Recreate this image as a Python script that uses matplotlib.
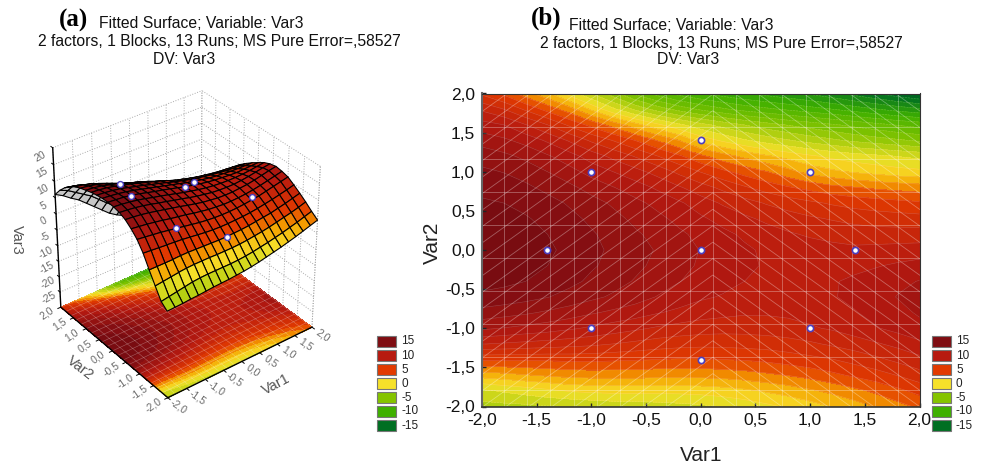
import numpy as np
import matplotlib
matplotlib.use('Agg')
import matplotlib.pyplot as plt
from matplotlib.colors import LinearSegmentedColormap, Normalize
from matplotlib.patches import Rectangle
from mpl_toolkits.mplot3d import proj3d

plt.rcParams['font.family'] = ['Liberation Sans', 'DejaVu Sans']

W, H = 986, 465

# fitted surface, rows Var2 = 2.0 .. -2.0, columns Var1 = -2.0 .. 2.0
var1 = [-2.0, -1.8, -1.6, -1.4, -1.2, -1.0, -0.8, -0.6, -0.4, -0.2, 0.0, 0.2, 0.4, 0.6, 0.8, 1.0, 1.2, 1.4, 1.6, 1.8, 2.0]
var2 = [2.0, 1.8, 1.6, 1.4, 1.2, 1.0, 0.8, 0.6, 0.4, 0.2, 0.0, -0.2, -0.4, -0.6, -0.8, -1.0, -1.2, -1.4, -1.6, -1.8, -2.0]
var3 = [
    [6, 4.7, 3, 1.5, -0.5, -2.5, -4.5, -6.5, -8, -9.2, -10, -10.6, -11.2, -11.7, -12.2, -12.7, -13.4, -14.2, -15, -15.8, -16.5],
    [8.5, 7.5, 6, 4.5, 3, 1, -1, -2.8, -4.3, -5.5, -6.5, -7.3, -8, -8.5, -9, -9.5, -10, -10.6, -11.2, -11.8, -12.3],
    [10.5, 10, 8.8, 7.5, 6, 4.6, 3.2, 1.7, 0.3, -1, -2.1, -3, -3.8, -4.5, -5.1, -5.6, -6.1, -6.6, -7.1, -7.6, -8],
    [12, 11.5, 10.8, 9.8, 8.6, 7.3, 6.2, 5, 3.7, 2.5, 0.8, -0.2, -1.1, -1.8, -2.4, -3, -3.5, -4, -4.4, -4.8, -5.2],
    [13.2, 12.8, 12.2, 11.4, 10.5, 9.4, 8.4, 7.4, 6.3, 5.2, 4, 3, 2.2, 1.4, 0.8, 0.2, -0.3, -0.7, -1, -1.3, -1.6],
    [14, 13.7, 13.2, 12.5, 11.7, 10.8, 10, 9.2, 8.3, 7.2, 6.2, 5.3, 4.5, 3.8, 2.9, 2, 1.5, 1.1, 0.8, 0.5, 0.3],
    [14.6, 14.4, 14, 13.4, 12.8, 12, 11.3, 10.6, 9.8, 8.9, 8, 7.2, 6.4, 5.7, 5.1, 4.6, 4.1, 3.8, 3.5, 3.3, 3.1],
    [15.2, 15, 14.7, 14.2, 13.6, 13, 12.3, 11.6, 10.9, 10.2, 9.4, 8.6, 8, 7.4, 6.9, 6.5, 6.1, 5.8, 5.6, 5.4, 5.2],
    [15.6, 15.4, 15.1, 14.7, 14.1, 13.5, 12.9, 12.2, 11.6, 10.9, 10.2, 9.6, 9, 8.5, 8.1, 7.7, 7.4, 7.1, 6.9, 6.8, 6.7],
    [15.9, 15.7, 15.4, 15, 14.5, 13.9, 13.3, 12.7, 12.1, 11.5, 10.9, 10.3, 9.8, 9.3, 8.9, 8.6, 8.4, 8.2, 8.1, 8.1, 8.1],
    [16, 15.8, 15.6, 15.2, 14.7, 14.1, 13.5, 13, 12.4, 11.8, 11.2, 10.7, 10.2, 9.8, 9.5, 9.3, 9.1, 9, 9.1, 9.2, 9.3],
    [15.9, 15.7, 15.4, 15, 14.5, 13.9, 13.4, 12.8, 12.2, 11.6, 11.1, 10.6, 10.2, 9.9, 9.7, 9.6, 9.6, 9.7, 9.9, 10.2, 10.5],
    [15.5, 15.3, 15, 14.6, 14.1, 13.5, 13, 12.4, 11.9, 11.3, 10.8, 10.4, 10, 9.8, 9.7, 9.7, 9.9, 10.2, 10.6, 11, 11.3],
    [14.7, 14.5, 14.2, 13.8, 13.3, 12.8, 12.3, 11.8, 11.2, 10.7, 10.2, 9.9, 9.6, 9.5, 9.5, 9.7, 9.9, 10.3, 10.8, 11.3, 11.7],
    [13.3, 13, 12.7, 12.3, 11.9, 11.4, 11, 10.6, 10.1, 9.7, 9.3, 9.1, 8.9, 8.9, 9, 9.2, 9.5, 9.9, 10.4, 10.9, 11.4],
    [11.5, 11.2, 10.9, 10.6, 10.2, 9.8, 9.4, 9, 8.6, 8.3, 8.1, 8, 8, 8.1, 8.3, 8.6, 8.9, 9.4, 9.9, 10.4, 10.9],
    [8.8, 8.6, 8.4, 8.2, 8, 7.8, 7.5, 7.2, 6.9, 6.7, 6.6, 6.6, 6.7, 6.8, 7, 7.3, 7.7, 8.1, 8.6, 9.1, 9.7],
    [5.2, 5.2, 5.2, 5.2, 5.3, 5.3, 5.2, 5.1, 5, 4.9, 4.9, 5, 5.1, 5.3, 5.6, 5.9, 6.2, 6.7, 7.2, 7.8, 8.4],
    [1.8, 2.1, 2.4, 2.7, 2.9, 3, 3, 3, 2.9, 2.9, 2.9, 3, 3.2, 3.5, 3.8, 4.2, 4.7, 5.2, 5.7, 6.3, 7],
    [-1.5, -1.1, -0.7, -0.3, 0.1, 0.3, 0.4, 0.4, 0.4, 0.4, 0.5, 0.7, 1, 1.4, 1.8, 2.3, 2.8, 3.4, 4, 4.7, 5.4],
    [-3, -2.9, -2.8, -2.6, -2.5, -2.3, -2.1, -2, -1.9, -1.7, -1.5, -1.2, -0.8, -0.3, 0.2, 0.7, 1.3, 1.9, 2.6, 3.3, 4],
]

# design points, x / y / z above the surface
pts_x = [-1.0, 1.0, -1.0, 1.0, -1.41, 1.41, 0.0, 0.0, 0.0]
pts_y = [-1.0, -1.0, 1.0, 1.0, 0.0, 0.0, -1.41, 1.41, 0.0]
pts_z = [10.0, 9.5, 10.5, 2.0, 15.0, 9.5, 5.0, 1.0, 11.0]
hidden_3d = [5, 7]  # behind the ridge in panel (a)

ticks_2d = [-2.0, -1.5, -1.0, -0.5, 0.0, 0.5, 1.0, 1.5, 2.0]
ticks_z = [20, 15, 10, 5, 0, -5, -10, -15, -20, -25]
legend_labels = ['15', '10', '5', '0', '-5', '-10', '-15']
legend_colors = ['#7f0d12', '#b71a10', '#e23a00', '#f6e12a', '#85c400', '#3fb000', '#006f22']

title_lines = ['Fitted Surface; Variable: Var3', '2 factors, 1 Blocks, 13 Runs; MS Pure Error=,58527', 'DV: Var3']

X, Y = np.meshgrid(var1, var2)
Z = np.array(var3, dtype=float)

cmap = LinearSegmentedColormap.from_list('stat', [
    (0.0, '#00531c'), (2.5 / 35, '#006f22'), (7.5 / 35, '#3fb000'), (12.5 / 35, '#85c400'),
    (17.5 / 35, '#f6e12a'), (20 / 35, '#f5a300'), (22.5 / 35, '#e23a00'), (27.5 / 35, '#b71a10'),
    (32.5 / 35, '#7f0d12'), (1.0, '#6a0a10')])
norm = Normalize(-17.5, 17.5)
levels = np.arange(-17.5, 18.5, 1.25)


def comma(v):
    return ('%.1f' % v).replace('.', ',')


def px_rect(x0, y0, x1, y1):
    return [x0 / W, 1 - y1 / H, (x1 - x0) / W, (y1 - y0) / H]


fig = plt.figure(figsize=(W / 100, H / 100), dpi=100)


def px_text(x, y, s, **kw):
    fig.text(x / W, 1 - y / H, s, **kw)


# ---- panel (b)
ax = fig.add_axes(px_rect(482, 93.5, 919.5, 406.5))
ax.contourf(X, Y, Z, levels=levels, cmap=cmap, norm=norm)
ax.contour(X, Y, Z, levels=levels, colors='white', linewidths=0.4, alpha=0.22)
for k in range(-10, 10):
    ax.axvline(0.11 + k * 0.212, color='white', lw=0.7, alpha=0.3)
for k in range(-5, 5):
    ax.axhline(-0.106 + k * 0.421, color='white', lw=0.7, alpha=0.3)
xx = np.array([-2.2, 0.11, 2.2])
for k in range(-10, 30):
    yy = -2 + k * 0.21 - np.abs(xx - 0.11)
    ax.plot(xx, yy, color='white', lw=0.6, alpha=0.33)
ax.scatter(pts_x, pts_y, s=20, facecolor='white', edgecolor='#4a3fc0', linewidth=1.2, zorder=5)
ax.set_xlim(-2, 2)
ax.set_ylim(-2, 2)
ax.set_xticks(ticks_2d)
ax.set_yticks(ticks_2d)
ax.set_xticklabels([comma(t) for t in ticks_2d])
ax.set_yticklabels([comma(t) for t in ticks_2d])
ax.tick_params(direction='in', length=3, width=1, labelsize=12.5, pad=5, color='#222222', labelcolor='#111111')
for sp in ax.spines.values():
    sp.set_color('#333333')
    sp.set_linewidth(0.8)
ax.spines['left'].set_color('#666666')
ax.spines['left'].set_linewidth(1.5)
ax.spines['bottom'].set_linewidth(1.2)
px_text(432, 243, 'Var2', fontsize=15, rotation=90, ha='center', va='center', color='#222222')
px_text(701, 455, 'Var1', fontsize=15, ha='center', va='center', color='#222222')

# ---- panel (a)
AZ, EL = -127.5, 34.5
ax3 = fig.add_axes(px_rect(-20, 45, 380, 445), projection='3d', computed_zorder=False)
ax3.set_axis_off()
ax3.patch.set_alpha(0)
ax3.view_init(elev=EL, azim=AZ)
ax3.set_proj_type('persp', focal_length=0.8)
ax3.set_box_aspect((1, 1, 1.05), zoom=0.79)
ax3.set_xlim(-2, 2, view_margin=0)
ax3.set_ylim(-2, 2, view_margin=0)
ax3.set_zlim(-30, 20, view_margin=0)


def text3(x, y, z, s, **kw):
    xp, yp, _ = proj3d.proj_transform(x, y, z, ax3.get_proj())
    ax3.text2D(xp, yp, s, transform=ax3.transData, **kw)


# back walls, dotted grid
wall = dict(color='#aaaaaa', lw=0.7, ls=':', zorder=1)
for t in ticks_2d:
    ax3.plot([t, t], [2, 2], [-30, 20], **wall)
    ax3.plot([2, 2], [t, t], [-30, 20], **wall)
for t in ticks_z + [-30]:
    ax3.plot([-2, 2], [2, 2], [t, t], **wall)
    ax3.plot([2, 2], [-2, 2], [t, t], **wall)
ax3.plot([2, 2], [-2, -2], [-30, 20], **wall)

floor = ax3.contourf(X, Y, Z, levels=levels, cmap=cmap, norm=norm, zdir='z', offset=-30)
floor.set_zorder(2)
for t in np.arange(-2, 2.01, 0.2):
    ax3.plot([t, t], [-2, 2], [-30, -30], color='white', lw=0.4, alpha=0.33, zorder=2.1)
    ax3.plot([-2, 2], [t, t], [-30, -30], color='white', lw=0.4, alpha=0.33, zorder=2.1)

# grey where the surface turns its underside to the viewer
az, el = np.radians(AZ), np.radians(EL)
view = np.array([np.cos(el) * np.cos(az), np.cos(el) * np.sin(az), np.sin(el)])
dzx = np.gradient(Z, var1, axis=1) * (4 / 50) * 1.05
dzy = np.gradient(Z, var2, axis=0) * (4 / 50) * 1.05
facing = -dzx * view[0] - dzy * view[1] + view[2]
low = np.min([Z[:-1, :-1], Z[1:, 1:], Z[:-1, 1:], Z[1:, :-1]], axis=0)
face = cmap(norm(low))
under = (facing[:-1, :-1] + facing[1:, 1:]) / 2 < 0
face[under] = (0.78, 0.78, 0.78, 1)
ax3.plot_surface(X, Y, Z, rstride=1, cstride=1, facecolors=face, edgecolor='black',
                 linewidth=0.8, shade=False, zorder=3)

px = np.array(pts_x)
py = np.array(pts_y)
pz = np.array(pts_z)
show = np.array([i not in hidden_3d for i in range(len(px))])
ax3.scatter(px[show], py[show], pz[show], s=18, facecolor='white', edgecolor='#4a3fc0',
            linewidth=1.0, depthshade=False, zorder=5)

# box edges, ticks and tick labels
edge = dict(color='black', lw=1.0, zorder=4)
ax3.plot([-2, 2], [-2, -2], [-30, -30], **edge)
ax3.plot([-2, -2], [-2, 2], [-30, -30], **edge)
ax3.plot([-2, -2], [2, 2], [-30, 20], color='black', lw=1.0, zorder=1.5)
lab = dict(fontsize=7.5, color='#6a6a6a', ha='center', va='center', zorder=6)
for t in ticks_2d:
    ax3.plot([t, t], [-2, -2.08], [-30, -30], color='black', lw=0.7, zorder=4)
    ax3.plot([-2, -2.08], [t, t], [-30, -30], color='black', lw=0.7, zorder=4)
    text3(t, -2.38, -30, comma(t), rotation=-35, **lab)
    text3(-2.38, t, -30, comma(t), rotation=35, **lab)
for t in ticks_z:
    ax3.plot([-2, -2], [2, 2.07], [t, t], color='black', lw=0.7, zorder=1.5)
    text3(-2, 2.5, t - 5.5, str(t), rotation=28, **lab)
name = dict(fontsize=10.5, color='#555555', ha='center', va='center', zorder=6)
text3(0.1, -3.05, -30, 'Var1', rotation=28, **name)
text3(-2.9, -0.05, -30, 'Var2', rotation=-38, **name)
text3(-2, 3.7, -19, 'Var3', rotation=-90, **name)

# ---- titles
txt = dict(fontsize=11.3, ha='center', va='center', color='#111111')
for x, y, s in zip([201, 219, 184], [24, 42, 59], title_lines):
    px_text(x, y, s, **txt)
for x, y, s in zip([671, 721, 688], [25, 43, 60], title_lines):
    px_text(x, y, s, **txt)
px_text(74, 20, '(a)', fontsize=18, fontfamily='Liberation Serif', fontweight='bold', ha='center', va='center')
px_text(546, 18, '(b)', fontsize=18, fontfamily='Liberation Serif', fontweight='bold', ha='center', va='center')

# ---- legends
for x0 in [377, 932]:
    for i, (lb, c) in enumerate(zip(legend_labels, legend_colors)):
        y0 = 336 + i * 14
        fig.add_artist(Rectangle((x0 / W, 1 - (y0 + 11) / H), 19 / W, 11 / H, transform=fig.transFigure,
                                 facecolor=c, edgecolor='#777777', linewidth=0.8))
        px_text(x0 + 24, y0 + 5.5, lb, fontsize=8.5, ha='left', va='center', color='#222222')

fig.savefig('out.png', dpi=100)
